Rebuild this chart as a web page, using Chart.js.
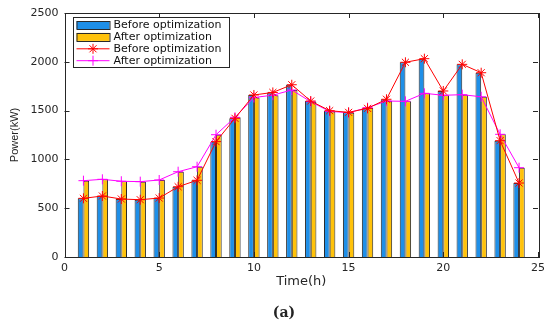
<!DOCTYPE html>
<html><head><meta charset="utf-8">
<script src="https://cdn.jsdelivr.net/npm/chart.js@4"></script>
<style>html,body{margin:0;padding:0;background:#fff}#wrap{width:550px;height:327px}</style>
</head><body><div id="wrap"><canvas id="c" width="550" height="327"></canvas></div>
<script>
const hours = [1,2,3,4,5,6,7,8,9,10,11,12,13,14,15,16,17,18,19,20,21,22,23,24];
const beforeOpt = [601,625,594,587,604,720,786,1182,1421,1660,1686,1765,1598,1499,1482,1523,1616,1995,2032,1701,1974,1888,1192,758];
const afterOpt  = [782,796,776,772,789,874,925,1253,1431,1634,1658,1711,1591,1492,1479,1530,1598,1595,1677,1657,1663,1642,1257,915];
const xTicks = [0,5,10,15,20,25];
const yTicks = [0,500,1000,1500,2000,2500];
const seriesLabels = ['Before optimization','After optimization'];

const pts = arr => hours.map((h,i)=>({x:h,y:arr[i]}));

const decor = {
  id:'decor',
  afterDraw(chart){
    const {ctx, chartArea:a, scales:{x,y}} = chart;
    ctx.save();
    ctx.strokeStyle = '#262626';
    ctx.lineWidth = 1;
    ctx.beginPath();
    xTicks.forEach(v=>{
      const px = Math.round(x.getPixelForValue(v))+0.5;
      ctx.moveTo(px,a.bottom); ctx.lineTo(px,a.bottom-5);
      ctx.moveTo(px,a.top); ctx.lineTo(px,a.top+5);
    });
    yTicks.forEach(v=>{
      const py = Math.round(y.getPixelForValue(v))+0.5;
      ctx.moveTo(a.left,py); ctx.lineTo(a.left+5,py);
      ctx.moveTo(a.right,py); ctx.lineTo(a.right-5,py);
    });
    ctx.stroke();
    ctx.strokeRect(Math.round(a.left)+0.5, Math.round(a.top)+0.5, Math.round(a.right-a.left), Math.round(a.bottom-a.top));

    const lx = a.left + 8, ly = a.top + 4, lw = 156, lh = 50;
    ctx.fillStyle = '#fff';
    ctx.fillRect(lx, ly, lw, lh);
    ctx.strokeStyle = '#262626';
    ctx.strokeRect(Math.round(lx)+0.5, Math.round(ly)+0.5, lw, lh);
    ctx.font = '11px "DejaVu Sans"';
    ctx.textBaseline = 'middle';
    chart.data.datasets.forEach((ds,i)=>{
      const cy = ly + 8 + i*11.9;
      const sx = lx + 4, sw = 33;
      if (ds.type === 'bar') {
        ctx.fillStyle = ds.backgroundColor;
        ctx.fillRect(sx, cy-4, sw, 8);
        ctx.strokeStyle = ds.borderColor;
        ctx.strokeRect(sx+0.5, Math.round(cy-4)+0.5, sw, 8);
      } else {
        ctx.strokeStyle = ds.borderColor;
        ctx.lineWidth = 1;
        ctx.beginPath(); ctx.moveTo(sx, cy); ctx.lineTo(sx+sw, cy); ctx.stroke();
        Chart.helpers.drawPoint(ctx, {pointStyle: ds.pointStyle, radius: 5, rotation: 0, borderWidth: 1}, sx+sw/2, cy);
      }
      ctx.fillStyle = '#111';
      ctx.fillText(ds.label, lx + 41, cy + 0.5);
    });
    ctx.font = 'bold 14px "DejaVu Serif"';
    ctx.textAlign = 'center';
    ctx.fillStyle = '#222';
    ctx.fillText('(a)', 284, 313);
    ctx.restore();
  }
};

new Chart(document.getElementById('c'), {
  type:'bar',
  data:{ datasets:[
    {type:'bar', label:seriesLabels[0], data:pts(beforeOpt), backgroundColor:'#1E8FE8', borderColor:'#2a2a2a', borderWidth:1, categoryPercentage:0.6, barPercentage:1, order:2},
    {type:'bar', label:seriesLabels[1], data:pts(afterOpt), backgroundColor:'#FFC20A', borderColor:'#2a2a2a', borderWidth:1, categoryPercentage:0.6, barPercentage:1, order:2},
    {type:'line', label:seriesLabels[0], data:pts(beforeOpt), borderColor:'#FF0000', backgroundColor:'#FF0000', borderWidth:1, pointStyle:'star', pointRadius:5, pointBorderColor:'#FF0000', pointBorderWidth:1, tension:0, order:1},
    {type:'line', label:seriesLabels[1], data:pts(afterOpt), borderColor:'#FF00FF', backgroundColor:'#FF00FF', borderWidth:1, pointStyle:'cross', pointRadius:5, pointBorderColor:'#FF00FF', pointBorderWidth:1, tension:0, order:1}
  ]},
  options:{
    responsive:false, animation:false, devicePixelRatio:1,
    layout:{padding:{left:0,right:12,top:13,bottom:30}},
    plugins:{legend:{display:false}, tooltip:{enabled:false}},
    scales:{
      x:{type:'linear', min:0, max:25, offset:false,
        grid:{display:false, drawTicks:false}, border:{display:false},
        afterBuildTicks: s=>{ s.ticks = xTicks.map(v=>({value:v})); },
        ticks:{padding:5, font:{family:'DejaVu Sans', size:11}, color:'#262626', maxRotation:0, callback:v=>String(v)},
        title:{display:true, text:'Time(h)', font:{family:'DejaVu Sans', size:13}, color:'#262626', padding:{top:2,bottom:8}},
        afterFit: s=>{ s.height = 40; }
      },
      y:{type:'linear', min:0, max:2500,
        grid:{display:false, drawTicks:false}, border:{display:false},
        afterBuildTicks: s=>{ s.ticks = yTicks.map(v=>({value:v})); },
        ticks:{padding:6, font:{family:'DejaVu Sans', size:11}, color:'#262626', callback:v=>String(v)},
        title:{display:true, text:'Power(kW)', font:{family:'Liberation Sans', size:11}, color:'#262626', padding:{top:8,bottom:0}},
        afterFit: s=>{ s.width = 64.5; }
      }
    }
  },
  plugins:[decor]
});
</script></body></html>
